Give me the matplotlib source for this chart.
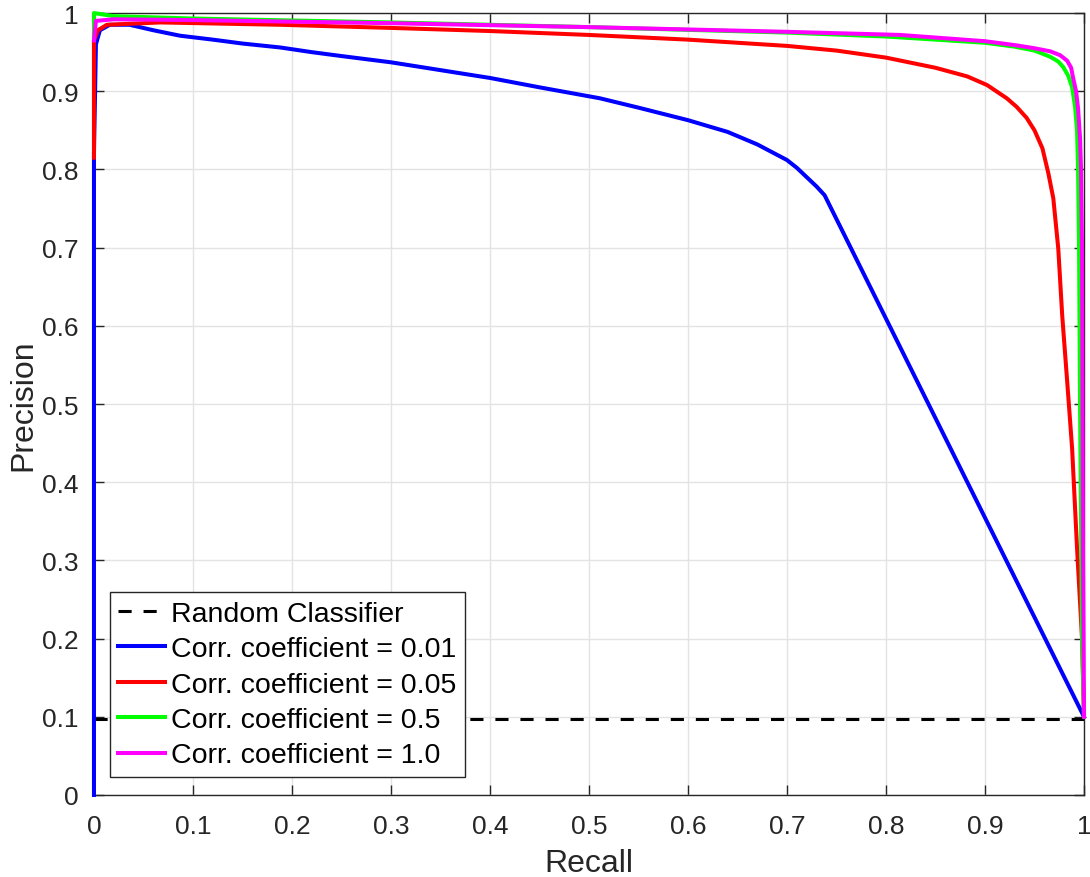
import matplotlib
matplotlib.use("Agg")
import matplotlib.pyplot as plt
import numpy as np

plt.rcParams["font.family"] = ["Liberation Sans", "DejaVu Sans"]

# Precision-recall curves
rec_001 = [0.0, 0.0, 0.002, 0.006, 0.016, 0.036, 0.06, 0.087, 0.12, 0.15, 0.188, 0.22, 0.25, 0.3,
           0.35, 0.4, 0.45, 0.511, 0.55, 0.6, 0.64, 0.67, 0.7, 0.71, 0.72, 0.73, 0.738, 1.0]
prec_001 = [0.0, 0.82, 0.96, 0.978, 0.985, 0.985, 0.978, 0.971, 0.966, 0.961, 0.956, 0.95, 0.945, 0.937,
            0.927, 0.917, 0.905, 0.891, 0.879, 0.863, 0.848, 0.832, 0.812, 0.802, 0.79, 0.778, 0.767, 0.1]

rec_005 = [0.0, 0.0, 0.004, 0.013, 0.067, 0.188, 0.3, 0.4, 0.5, 0.6, 0.7, 0.75, 0.8, 0.85,
           0.882, 0.902, 0.922, 0.932, 0.942, 0.95, 0.958, 0.964, 0.969, 0.974, 0.978, 0.983,
           0.988, 0.993, 0.998, 1.0]
prec_005 = [0.815, 0.965, 0.978, 0.985, 0.988, 0.985, 0.981, 0.977, 0.972, 0.966, 0.958, 0.952, 0.943, 0.93,
            0.919, 0.908, 0.891, 0.88, 0.866, 0.85, 0.827, 0.795, 0.763, 0.699, 0.613, 0.529,
            0.443, 0.315, 0.2, 0.1]

rec_05 = [0.0, 0.0, 0.02, 0.1, 0.3, 0.5, 0.7, 0.8, 0.9, 0.93, 0.95, 0.966, 0.974, 0.979, 0.984,
          0.988, 0.991, 0.993, 0.994, 0.995, 0.996, 0.998, 1.0]
prec_05 = [0.97, 1.0, 0.996, 0.993, 0.988, 0.982, 0.975, 0.97, 0.962, 0.957, 0.952, 0.944, 0.938, 0.931,
           0.92, 0.905, 0.88, 0.849, 0.8, 0.7, 0.5, 0.2, 0.1]

rec_10 = [0.0, 0.002, 0.02, 0.1, 0.3, 0.5, 0.7, 0.814, 0.9, 0.93, 0.95, 0.966, 0.976, 0.983, 0.987,
          0.989, 0.992, 0.994, 0.996, 0.997, 0.998, 0.999, 1.0]
prec_10 = [0.965, 0.99, 0.992, 0.991, 0.987, 0.982, 0.976, 0.972, 0.964, 0.959, 0.955, 0.951, 0.946,
           0.939, 0.93, 0.917, 0.9, 0.878, 0.84, 0.8, 0.7, 0.3, 0.1]

random_level = 0.097

labels = ["Corr. coefficient = 0.01", "Corr. coefficient = 0.05",
          "Corr. coefficient = 0.5", "Corr. coefficient = 1.0"]
colors = ["#0000ff", "#ff0000", "#00ff00", "#ff00ff"]

fig = plt.figure(figsize=(10.9, 8.78), dpi=100)
ax = fig.add_axes([0.0862, 0.0934, 0.9083, 0.8906])

ax.plot([0, 1], [random_level, random_level], "--", color="black", lw=2.2, dashes=(4.3, 3.9),
        label="Random Classifier")
for r, p, c, lab in zip([rec_001, rec_005, rec_05, rec_10], [prec_001, prec_005, prec_05, prec_10],
                        colors, labels):
    ax.plot(r, p, color=c, lw=2.9, label=lab, solid_joinstyle="round", clip_on=False, zorder=3)

ax.set_xlim(0, 1)
ax.set_ylim(0, 1)
ticks = np.arange(0, 1.01, 0.1)
ax.set_xticks(ticks)
ax.set_yticks(ticks)
tlab = ["0"] + [f"{t:.1f}" for t in ticks[1:-1]] + ["1"]
ax.set_xticklabels(tlab)
ax.set_yticklabels(tlab)

ax.grid(True, color="#e3e3e3", lw=1.0)
ax.set_axisbelow(True)
for s in ax.spines.values():
    s.set_color("#262626")
    s.set_linewidth(1.0)
ax.tick_params(direction="in", length=7, width=1.0, top=True, right=True,
               labelsize=19, colors="#262626")
ax.tick_params(axis="x", pad=14)
ax.tick_params(axis="y", pad=11)

ax.set_xlabel("Recall", fontsize=23, color="#262626", labelpad=7)
ax.set_ylabel("Precision", fontsize=23, color="#262626", labelpad=3)

leg = ax.legend(loc="lower left", bbox_to_anchor=(0.016, 0.023), borderaxespad=0, fontsize=20.5,
                handlelength=1.65, handletextpad=0.2, borderpad=0.3, labelspacing=0.33,
                fancybox=False, framealpha=1, edgecolor="#262626")
leg.get_frame().set_linewidth(1.0)
leg.set_zorder(5)

fig.savefig("out.png", dpi=100)
